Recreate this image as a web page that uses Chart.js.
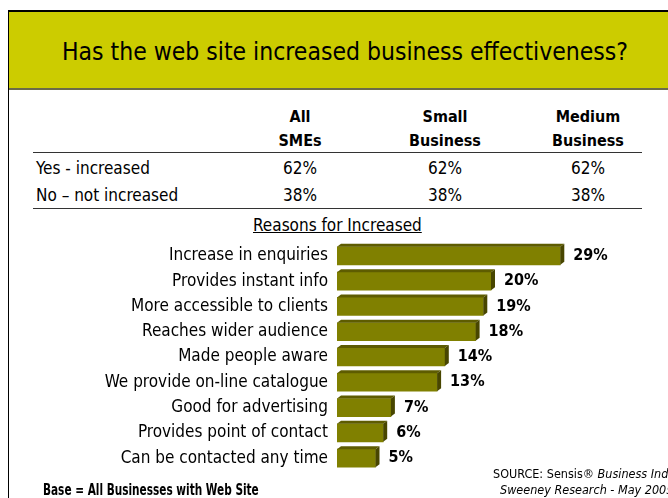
<!DOCTYPE html>
<html>
<head>
<meta charset="utf-8">
<script src="https://cdn.jsdelivr.net/npm/chart.js@4/dist/chart.umd.min.js"></script>
<style>
  body { margin: 0; width: 668px; height: 498px; background: #fff; overflow: hidden; position: relative;
         font-family: "DejaVu Sans Condensed", "Liberation Sans Narrow", sans-serif; color: #000; }
  #frame { position: absolute; left: 8px; top: 10px; width: 670px; height: 500px;
           border-left: 1px solid #000; border-top: 2px solid #000; }
  #banner { position: absolute; left: 9px; top: 12px; width: 670px; height: 76px; background: #cccc00;
            border-bottom: 2px solid #6b6b4a; }
  #banner h1 { margin: 0; position: absolute; left: 0; width: 672px; top: 25px; text-align: center;
               font-weight: normal; font-size: 24.5px; }
  .t { position: absolute; font-size: 17px; white-space: nowrap; }
  .c { text-align: center; width: 120px; }
  .b { font-weight: bold; }
  .h { font-size: 16px; }
  .rule { position: absolute; left: 33px; width: 609px; height: 0; border-top: 1px solid #333; }
  #chartBox { position: absolute; left: 0; top: 224px; width: 668px; height: 266px; }
</style>
</head>
<body>
<div id="frame"></div>
<div id="banner"><h1>Has the web site increased business effectiveness?</h1></div>

<div class="t c b h" style="left:240px;top:107px">All</div>
<div class="t c b h" style="left:240px;top:131px">SMEs</div>
<div class="t c b h" style="left:385px;top:107px">Small</div>
<div class="t c b h" style="left:385px;top:131px">Business</div>
<div class="t c b h" style="left:528px;top:107px">Medium</div>
<div class="t c b h" style="left:528px;top:131px">Business</div>
<div class="rule" style="top:152px"></div>
<div id="rows"></div>
<div class="rule" style="top:208px"></div>
<div class="t" style="left:253px;top:215px;text-decoration:underline">Reasons for Increased</div>

<div id="chartBox"><canvas id="reasonsChart" width="668" height="266"></canvas></div>

<div class="t b" style="left:43px;top:481px;font-size:15px;transform:scaleX(0.78);transform-origin:0 0">Base = All Businesses with Web Site</div>
<div class="t" style="left:493px;top:466px;font-size:12.5px">SOURCE: Sensis® <i>Business Index</i></div>
<div class="t" style="left:500px;top:482px;font-size:12.5px"><i>Sweeney Research - May 2005</i></div>

<script>
const groups = ["All SMEs", "Small Business", "Medium Business"];
const answers = ["Yes - increased", "No \u2013 not increased"];
const yesShare = [62, 62, 62];
const noShare = [38, 38, 38];

const reasons = [
  "Increase in enquiries",
  "Provides instant info",
  "More accessible to clients",
  "Reaches wider audience",
  "Made people aware",
  "We provide on-line catalogue",
  "Good for advertising",
  "Provides point of contact",
  "Can be contacted any time"
];
const reasonShare = [29, 20, 19, 18, 14, 13, 7, 6, 5];

// table rows
const rowsDiv = document.getElementById("rows");
const colLeft = [240, 385, 528];
[yesShare, noShare].forEach((vals, r) => {
  const top = 158 + r * 27;
  let html = `<div class="t" style="left:36px;top:${top}px">${answers[r]}</div>`;
  vals.forEach((v, i) => {
    html += `<div class="t c" style="left:${colLeft[i]}px;top:${top}px">${v}%</div>`;
  });
  rowsDiv.insertAdjacentHTML("beforeend", html);
});

const fontFamily = '"DejaVu Sans Condensed", "Liberation Sans Narrow", sans-serif';

// gives each bar a top and right face, then writes the value
const boxBars = {
  id: "boxBars",
  afterDatasetsDraw(chart) {
    const ctx = chart.ctx;
    const meta = chart.getDatasetMeta(0);
    const depth = 4;
    ctx.save();
    meta.data.forEach((bar, i) => {
      const left = bar.base;
      const right = bar.x;
      const top = bar.y - bar.height / 2;
      const bottom = bar.y + bar.height / 2;
      ctx.fillStyle = "#5e5c00";
      ctx.beginPath();
      ctx.moveTo(left, top);
      ctx.lineTo(left + depth, top - depth + 1);
      ctx.lineTo(right + depth, top - depth + 1);
      ctx.lineTo(right, top);
      ctx.closePath();
      ctx.fill();
      ctx.fillStyle = "#484600";
      ctx.beginPath();
      ctx.moveTo(right, top);
      ctx.lineTo(right + depth, top - depth + 1);
      ctx.lineTo(right + depth, bottom - depth + 1);
      ctx.lineTo(right, bottom);
      ctx.closePath();
      ctx.fill();

      ctx.fillStyle = "#000";
      ctx.font = "bold 16px " + fontFamily;
      ctx.textBaseline = "middle";
      ctx.textAlign = "left";
      ctx.fillText(reasonShare[i] + "%", right + 13, bar.y);
    });
    ctx.restore();
  }
};

const ctx = document.getElementById("reasonsChart").getContext("2d");
new Chart(ctx, {
  type: "bar",
  data: {
    labels: reasons,
    datasets: [{
      data: reasonShare,
      backgroundColor: "#808000",
      borderWidth: 0,
      barThickness: 18
    }]
  },
  options: {
    indexAxis: "y",
    responsive: false,
    animation: false,
    layout: { padding: { left: 0, right: 23, top: 0, bottom: 0 } },
    plugins: { legend: { display: false }, tooltip: { enabled: false } },
    scales: {
      x: { display: false, min: 0, max: 40 },
      y: {
        grid: { display: false, drawTicks: false },
        border: { display: false },
        ticks: { color: "#000", padding: 9, autoSkip: false, font: { family: fontFamily, size: 17 } },
        afterFit(scale) { scale.width = 337; }
      }
    }
  },
  plugins: [boxBars]
});
</script>
</body>
</html>
